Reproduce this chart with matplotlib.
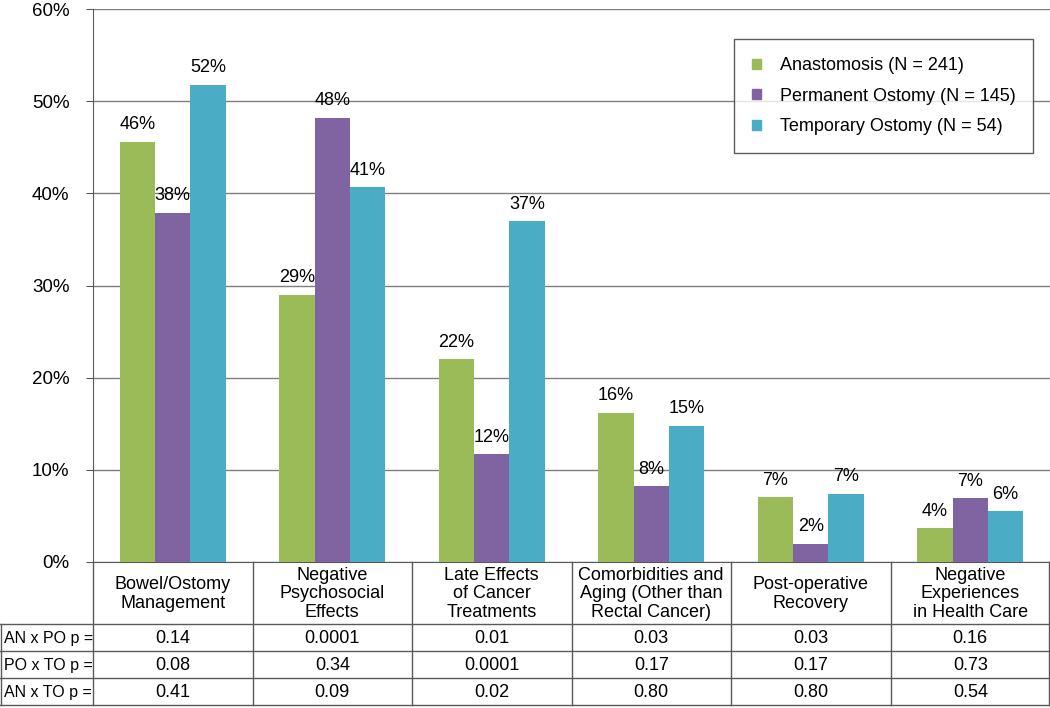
import numpy as np
import matplotlib
matplotlib.use('Agg')
import matplotlib.pyplot as plt
from matplotlib.patches import Patch

plt.rcParams['font.family'] = ['Liberation Sans', 'DejaVu Sans']

categories = ['Bowel/Ostomy\nManagement', 'Negative\nPsychosocial\nEffects',
              'Late Effects\nof Cancer\nTreatments',
              'Comorbidities and\nAging (Other than\nRectal Cancer)',
              'Post-operative\nRecovery', 'Negative\nExperiences\nin Health Care']
series_names = ['Anastomosis (N = 241)', 'Permanent Ostomy (N = 145)',
                'Temporary Ostomy (N = 54)']
anastomosis = [45.6, 29.0, 22.0, 16.2, 7.0, 3.7]
permanent = [37.9, 48.2, 11.7, 8.2, 2.0, 6.9]
temporary = [51.8, 40.7, 37.0, 14.8, 7.4, 5.5]
row_labels = ['AN x PO p =', 'PO x TO p =', 'AN x TO p =']
an_po = ['0.14', '0.0001', '0.01', '0.03', '0.03', '0.16']
po_to = ['0.08', '0.34', '0.0001', '0.17', '0.17', '0.73']
an_to = ['0.41', '0.09', '0.02', '0.80', '0.80', '0.54']

colors = ['#9BBB59', '#8064A2', '#4BACC6']
line_col = '#595959'

W, H = 1050, 708
fig = plt.figure(figsize=(10.5, 7.08), dpi=100)

# main bar axes (pixel layout)
left, right, top, bottom = 93, 1050, 9, 562
ax = fig.add_axes([left / W, 1 - bottom / H, (right - left) / W, (bottom - top) / H])
x = np.arange(len(categories))
bw = 0.222
for i, vals in enumerate([anastomosis, permanent, temporary]):
    bars = ax.bar(x + (i - 1) * bw, vals, bw, color=colors[i], label=series_names[i], zorder=3)
    for b, v in zip(bars, vals):
        ax.annotate(f'{round(v):d}%', (b.get_x() + b.get_width() / 2, v),
                    xytext=(0, 6), textcoords='offset points',
                    ha='center', va='bottom', fontsize=13)
ax.set_xlim(-0.5, len(categories) - 0.5)
ax.set_ylim(0, 60)
ax.set_yticks(range(0, 61, 10))
ax.set_yticklabels([f'{t}%' for t in range(0, 61, 10)], fontsize=13.5)
ax.yaxis.grid(True, color='#7f7f7f', linewidth=1, zorder=0)
ax.set_xticks([])
ax.tick_params(axis='y', length=5, color=line_col, pad=12)
for s in ['top', 'right']:
    ax.spines[s].set_visible(False)
ax.spines['left'].set_color(line_col)
ax.spines['bottom'].set_color(line_col)

handles = [Patch(color=c) for c in colors]
leg = ax.legend(handles, series_names, loc='upper right', bbox_to_anchor=(0.992, 0.962),
                fontsize=13, frameon=True, fancybox=False, edgecolor='#333333',
                handlelength=0.5, handleheight=0.5, labelspacing=0.75,
                borderpad=1.0, handletextpad=1.0)
leg.get_frame().set_linewidth(1.0)

# table below the bars
tab = fig.add_axes([0, 0, 1, 1])
tab.set_xlim(0, W)
tab.set_ylim(H, 0)
tab.axis('off')
col_w = (right - left) / len(categories)
row_y = [562, 624, 651, 678, 705]
lw = 1.0
# horizontal lines
for y in row_y[1:]:
    tab.plot([0, W], [y, y], color=line_col, lw=lw)
# vertical lines
tab.plot([1, 1], [row_y[1], row_y[-1]], color=line_col, lw=lw)
tab.plot([left, left], [row_y[0], row_y[-1]], color=line_col, lw=lw)
for k in range(1, len(categories) + 1):
    xx = left + k * col_w
    xx = min(xx, W - 1)
    tab.plot([xx, xx], [row_y[0], row_y[-1]], color=line_col, lw=lw)

for k, cat in enumerate(categories):
    cx = left + (k + 0.5) * col_w
    tab.text(cx, (row_y[0] + row_y[1]) / 2 + 1, cat, ha='center', va='center',
             fontsize=13, linespacing=1.15)
    for r, row in enumerate([an_po, po_to, an_to]):
        tab.text(cx, (row_y[r + 1] + row_y[r + 2]) / 2 + 1, row[k], ha='center',
                 va='center', fontsize=13)
for r, lab in enumerate(row_labels):
    tab.text(4, (row_y[r + 1] + row_y[r + 2]) / 2 + 1, lab, ha='left', va='center', fontsize=11.5)

fig.savefig('out.png', dpi=100)
